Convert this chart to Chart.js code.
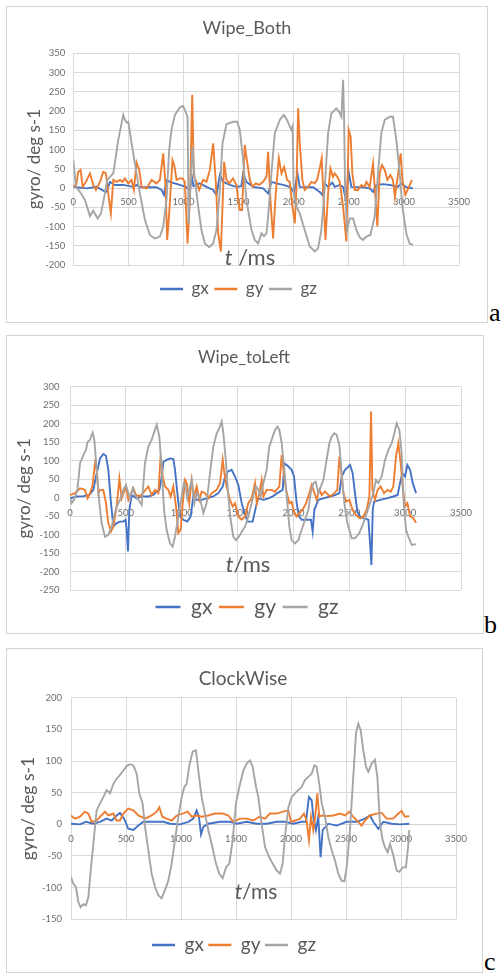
<!DOCTYPE html>
<html>
<head>
<meta charset="utf-8">
<script src="https://cdn.jsdelivr.net/npm/chart.js@4.4.0/dist/chart.umd.min.js"></script>
<style>
  body { margin: 0; background: #fff; }
  .panel { position: absolute; box-sizing: border-box; border: 1px solid #d4d4d4; }
  .panel canvas { position: absolute; left: 0; top: 0; }
  .tag { position: absolute; font-family: "Liberation Serif", serif; font-size: 26px; line-height: 1; color: #000; }
</style>
</head>
<body>
<div class="panel" style="left:6px;top:6px;width:482px;height:317px"><canvas id="chartA" width="480" height="315"></canvas></div>
<div class="tag" style="left:489px;top:300px">a</div>
<div class="panel" style="left:6px;top:335px;width:478px;height:299px"><canvas id="chartB" width="476" height="297"></canvas></div>
<div class="tag" style="left:484px;top:612px">b</div>
<div class="panel" style="left:6px;top:648px;width:477px;height:325px"><canvas id="chartC" width="475" height="323"></canvas></div>
<div class="tag" style="left:484px;top:949px">c</div>
<script>
// series: [t in ms, gyro in deg/s]
const wipeBothGx = [[0,3],[30,2],[121,-1],[212,3],[272,-7],[302,-10],[332,16],[378,8],[453,8],[544,3],[574,8],[604,2],[755,2],[801,-5],[822,-18],[846,21],[876,16],[967,8],[1021,3],[1060,-5],[1075,30],[1090,5],[1148,12],[1209,3],[1269,-5],[1299,-18],[1330,34],[1360,16],[1420,8],[1481,3],[1525,5],[1541,38],[1571,16],[1632,3],[1722,-1],[1768,-14],[1798,16],[1843,12],[1904,8],[1964,3],[1988,-5],[2004,-12],[2034,38],[2055,3],[2176,2],[2236,-10],[2260,-18],[2282,12],[2312,3],[2351,14],[2372,3],[2418,8],[2448,3],[2478,-35],[2496,47],[2523,3],[2629,2],[2690,-1],[2720,-10],[2750,8],[2810,10],[2871,8],[2946,3],[2977,12],[3022,2],[3082,-1]];
const wipeBothGy = [[0,8],[24,3],[45,42],[66,47],[85,3],[115,16],[151,38],[181,8],[205,-5],[242,16],[272,42],[296,38],[317,-14],[341,-66],[363,21],[393,16],[423,21],[447,16],[468,25],[499,12],[529,21],[550,-5],[574,66],[598,47],[620,3],[665,-1],[710,21],[755,12],[786,21],[816,90],[837,8],[852,-135],[870,-66],[900,73],[916,60],[937,21],[967,25],[991,25],[1012,16],[1037,-144],[1058,-31],[1079,242],[1094,29],[1118,16],[1142,-5],[1178,21],[1209,16],[1239,47],[1269,116],[1293,16],[1315,-118],[1339,-165],[1354,-48],[1369,68],[1390,21],[1414,12],[1450,25],[1481,8],[1496,-31],[1511,-57],[1532,-57],[1556,112],[1571,81],[1602,21],[1626,3],[1656,12],[1686,8],[1722,16],[1753,29],[1768,94],[1789,-31],[1813,-131],[1837,-14],[1865,77],[1889,38],[1913,55],[1940,21],[1964,16],[1988,-48],[2010,-92],[2025,3],[2040,207],[2055,116],[2079,21],[2100,-5],[2130,3],[2161,16],[2191,12],[2212,21],[2236,51],[2254,77],[2272,-31],[2288,-135],[2312,-14],[2333,51],[2357,29],[2372,38],[2396,29],[2418,16],[2448,-48],[2478,-139],[2499,151],[2517,133],[2532,38],[2554,-5],[2584,-5],[2614,8],[2644,3],[2659,16],[2690,3],[2720,64],[2741,-23],[2759,-100],[2780,38],[2801,60],[2826,47],[2850,21],[2877,34],[2901,21],[2919,-23],[2940,21],[2971,90],[2986,21],[3013,-18],[3046,3],[3073,21]];
const wipeBothGz = [[0,73],[24,3],[60,-10],[106,-31],[151,-73],[181,-59],[221,-79],[251,-66],[281,-23],[308,21],[363,38],[408,125],[453,190],[468,177],[484,170],[499,172],[529,116],[574,38],[604,-14],[650,-83],[695,-122],[740,-131],[786,-126],[816,-100],[846,-31],[870,99],[891,151],[922,190],[967,210],[997,213],[1012,203],[1037,185],[1046,-92],[1082,107],[1097,38],[1133,-48],[1163,-109],[1194,-144],[1233,-154],[1269,-144],[1299,-109],[1330,-5],[1354,116],[1390,166],[1450,172],[1487,172],[1511,151],[1541,73],[1571,-31],[1617,-109],[1647,-135],[1677,-144],[1707,-118],[1730,-125],[1753,-118],[1768,-74],[1798,38],[1828,142],[1874,177],[1910,190],[1940,177],[1958,164],[1979,151],[1990,160],[2000,-14],[2025,-48],[2055,-66],[2100,-109],[2146,-152],[2191,-165],[2221,-157],[2251,-109],[2282,3],[2312,142],[2342,194],[2372,203],[2387,207],[2412,198],[2433,185],[2448,281],[2457,185],[2466,3],[2484,-109],[2508,-79],[2538,-79],[2569,-109],[2599,-128],[2629,-135],[2659,-126],[2696,-122],[2735,-74],[2765,38],[2795,142],[2826,177],[2871,185],[2901,185],[2931,125],[2962,38],[2986,-48],[3022,-118],[3052,-144],[3082,-148]];

const wipeLeftGx = [[0,-2],[60,3],[119,4],[173,7],[209,21],[239,66],[269,106],[298,118],[322,113],[343,75],[367,-15],[388,-78],[418,-69],[448,-65],[477,-65],[498,-60],[507,-87],[519,-146],[531,-33],[552,7],[597,-2],[642,3],[701,3],[746,7],[776,16],[800,21],[821,57],[836,97],[865,102],[895,106],[925,104],[940,75],[964,3],[985,-51],[1015,-60],[1050,-65],[1080,-51],[1104,3],[1134,-6],[1179,-6],[1223,-2],[1283,3],[1328,12],[1367,30],[1388,57],[1411,70],[1447,75],[1477,57],[1507,34],[1537,-15],[1567,-47],[1590,-65],[1635,-65],[1665,-24],[1686,-2],[1731,-6],[1776,-2],[1814,3],[1856,12],[1904,21],[1919,93],[1955,84],[1984,75],[2005,57],[2029,-15],[2050,-51],[2074,-60],[2119,-60],[2157,-60],[2172,-92],[2187,-33],[2223,-6],[2268,-2],[2327,3],[2372,7],[2411,12],[2432,57],[2462,75],[2507,88],[2530,66],[2551,12],[2572,-38],[2596,-51],[2632,-56],[2671,-60],[2686,-124],[2698,-182],[2710,-33],[2721,-11],[2775,-6],[2835,-2],[2894,3],[2933,7],[2954,39],[2975,66],[2999,57],[3020,88],[3044,75],[3068,39],[3098,12]];
const wipeLeftGy = [[0,7],[45,12],[90,25],[134,21],[158,-2],[179,12],[200,30],[224,93],[239,75],[254,12],[269,21],[298,21],[322,-15],[343,-69],[367,-92],[388,-78],[418,-24],[442,52],[462,-2],[483,16],[501,30],[522,-6],[546,12],[567,25],[591,7],[627,3],[663,16],[701,30],[731,7],[761,21],[791,12],[812,115],[830,57],[850,30],[880,21],[901,3],[925,30],[949,-24],[970,-96],[991,-87],[1009,-15],[1030,48],[1045,39],[1068,-15],[1089,48],[1110,3],[1134,30],[1158,-6],[1179,16],[1209,12],[1238,-2],[1268,12],[1313,21],[1343,39],[1367,102],[1382,66],[1402,30],[1432,-6],[1456,-24],[1477,-15],[1507,-51],[1537,-60],[1567,-51],[1596,-15],[1626,-2],[1656,39],[1672,-15],[1695,12],[1716,48],[1731,3],[1760,21],[1805,21],[1835,16],[1874,30],[1895,115],[1910,75],[1934,21],[1963,-15],[1984,-11],[2005,-38],[2029,-51],[2053,-42],[2083,-33],[2113,-15],[2143,12],[2163,34],[2184,16],[2208,-6],[2232,21],[2253,7],[2283,16],[2327,3],[2366,12],[2393,21],[2411,111],[2426,75],[2447,12],[2471,-11],[2501,-6],[2530,-33],[2560,-47],[2596,-56],[2626,-51],[2656,-33],[2680,3],[2695,233],[2707,21],[2730,-6],[2754,21],[2781,30],[2811,12],[2841,21],[2871,16],[2894,30],[2918,111],[2939,147],[2960,93],[2978,30],[2999,-24],[3020,-15],[3044,-51],[3074,-56],[3098,-68]];
const wipeLeftGz = [[0,-2],[15,-15],[36,-6],[66,21],[90,93],[119,115],[143,129],[158,151],[179,156],[203,176],[218,156],[239,75],[263,-15],[283,-69],[313,-106],[343,-101],[373,-78],[394,-51],[418,-24],[448,-6],[477,21],[501,34],[522,12],[537,-2],[561,25],[582,7],[612,-6],[642,-20],[671,93],[701,138],[731,156],[755,179],[776,197],[800,165],[821,75],[842,-33],[865,-87],[895,-124],[919,-133],[940,-106],[970,-51],[1000,3],[1020,39],[1035,30],[1050,-2],[1089,48],[1113,-15],[1134,12],[1164,-2],[1194,-42],[1223,-15],[1253,66],[1283,138],[1313,174],[1337,188],[1358,206],[1373,174],[1397,93],[1417,3],[1438,-60],[1462,-106],[1486,-115],[1522,-101],[1567,-78],[1596,-51],[1626,-15],[1647,12],[1665,30],[1686,21],[1707,3],[1731,39],[1760,75],[1784,138],[1814,165],[1835,183],[1856,192],[1874,183],[1895,147],[1916,84],[1940,3],[1963,-78],[1984,-115],[2014,-124],[2044,-115],[2074,-87],[2104,-60],[2134,-33],[2154,12],[2178,39],[2200,43],[2223,12],[2245,30],[2268,48],[2292,93],[2322,147],[2342,165],[2366,174],[2387,170],[2411,142],[2432,66],[2456,-15],[2483,-69],[2521,-110],[2551,-110],[2590,-96],[2626,-69],[2656,-42],[2686,-15],[2715,12],[2739,48],[2760,39],[2790,57],[2820,102],[2850,129],[2880,147],[2903,174],[2924,201],[2948,183],[2969,120],[2984,3],[2992,-33],[3008,-87],[3029,-106],[3059,-128],[3098,-126]];

const clockGx = [[0,1],[82,0],[136,4],[203,1],[264,4],[324,9],[370,6],[415,14],[445,18],[482,9],[521,-7],[567,-9],[612,-2],[658,4],[748,4],[839,4],[900,1],[991,0],[1067,4],[1112,9],[1142,22],[1163,12],[1182,-16],[1203,-4],[1248,1],[1354,4],[1445,4],[1506,1],[1597,4],[1688,1],[1779,1],[1870,4],[1945,4],[2021,1],[2097,4],[2136,4],[2163,43],[2188,38],[2203,12],[2227,-9],[2248,12],[2269,-52],[2288,-9],[2339,1],[2415,-2],[2506,4],[2597,4],[2673,9],[2718,14],[2748,4],[2794,-7],[2839,4],[2915,1],[2991,0],[3076,1]];
const clockGy = [[0,14],[36,9],[82,12],[127,20],[158,17],[188,4],[233,6],[264,12],[309,20],[339,14],[385,17],[415,6],[445,6],[476,17],[521,25],[567,22],[612,14],[673,9],[733,14],[779,20],[803,27],[830,12],[870,9],[915,6],[961,14],[1015,17],[1061,20],[1097,12],[1142,14],[1188,12],[1248,14],[1309,17],[1379,17],[1430,14],[1476,4],[1536,9],[1597,9],[1657,6],[1712,12],[1764,9],[1809,17],[1870,17],[1930,20],[1976,22],[2000,4],[2036,6],[2082,9],[2118,17],[2142,6],[2163,-25],[2182,12],[2203,-9],[2220,12],[2239,49],[2257,12],[2279,14],[2324,13],[2385,14],[2445,17],[2491,14],[2530,20],[2566,12],[2612,4],[2642,-2],[2673,6],[2718,14],[2779,17],[2824,18],[2869,9],[2930,9],[2976,17],[3006,21],[3036,12],[3076,13]];
const clockGz = [[0,-83],[21,-94],[45,-99],[67,-123],[88,-131],[112,-126],[136,-128],[158,-115],[179,-73],[203,-31],[233,22],[264,33],[294,43],[324,54],[355,49],[385,64],[415,72],[445,78],[476,85],[506,92],[536,95],[567,93],[597,80],[621,49],[651,33],[673,-4],[703,-41],[733,-78],[764,-99],[794,-112],[824,-117],[854,-104],[885,-89],[915,-62],[945,-25],[976,12],[1006,43],[1030,59],[1051,64],[1076,93],[1106,115],[1136,117],[1157,85],[1188,43],[1218,17],[1248,-9],[1279,-31],[1318,-62],[1348,-78],[1379,-85],[1409,-68],[1439,-62],[1470,-25],[1500,33],[1530,59],[1567,85],[1597,96],[1627,101],[1651,91],[1682,59],[1703,43],[1733,1],[1764,-36],[1803,-52],[1833,-62],[1870,-73],[1900,-78],[1924,-62],[1945,-20],[1976,27],[2006,43],[2036,49],[2066,54],[2097,59],[2127,70],[2157,75],[2188,80],[2212,93],[2233,91],[2257,64],[2279,33],[2309,12],[2339,-20],[2370,-41],[2400,-57],[2430,-78],[2460,-89],[2485,-90],[2506,-68],[2536,-9],[2566,75],[2591,144],[2612,159],[2633,149],[2657,117],[2682,91],[2703,83],[2733,96],[2763,102],[2785,75],[2809,1],[2833,-25],[2854,-36],[2879,-44],[2900,-31],[2930,-49],[2960,-73],[2985,-75],[3015,-68],[3045,-68],[3064,-36],[3076,-9]];

const seriesNames = ["gx", "gy", "gz"];
const seriesColors = ["#4472C4", "#ED7D31", "#A5A5A5"];
const INK = "#595959";

Chart.defaults.font.family = "Lato, 'Noto Sans', sans-serif";

// title and x axis name, drawn on the canvas at fixed spots
const panelText = {
  id: "panelText",
  afterDatasetsDraw(chart, args, opts) {
    const ctx = chart.ctx;
    ctx.save();
    ctx.fillStyle = INK;
    ctx.textBaseline = "middle";
    ctx.textAlign = "left";
    (opts.items || []).forEach(item => {
      const fonts = item.parts.map(p => (p[1] ? "italic " : "") + item.size + "px Lato");
      const widths = item.parts.map((p, i) => { ctx.font = fonts[i]; return ctx.measureText(p[0]).width; });
      let x = item.x - widths.reduce((a, b) => a + b, 0) / 2;
      item.parts.forEach((p, i) => {
        ctx.font = fonts[i];
        ctx.fillText(p[0], x, item.y);
        x += widths[i];
      });
    });
    ctx.restore();
  }
};

function makeChart(id, p) {
  const ctx = document.getElementById(id).getContext("2d");
  return new Chart(ctx, {
    type: "line",
    data: {
      datasets: p.series.map((s, i) => ({
        label: seriesNames[i],
        data: s.map(([x, y]) => ({ x, y })),
        borderColor: seriesColors[i],
        backgroundColor: seriesColors[i],
        borderWidth: 1.9,
        pointRadius: 0,
        tension: 0,
        order: 2 - i
      }))
    },
    options: {
      responsive: false,
      animation: false,
      events: [],
      layout: { padding: p.pad },
      scales: {
        x: {
          type: "linear",
          position: { y: 0 },
          min: 0,
          max: 3500,
          ticks: { stepSize: 500, padding: p.xLabelPad, color: "#6e6e6e", font: { size: 9.5 }, maxRotation: 0, format: { useGrouping: false } },
          grid: { color: "#d9d9d9", drawTicks: false },
          border: { color: "#d4d4d4" }
        },
        y: {
          min: p.yMin,
          max: p.yMax,
          ticks: { stepSize: 50, padding: p.yLabelPad, color: "#6e6e6e", font: { size: 9.5 } },
          grid: { color: "#d9d9d9", drawTicks: false },
          border: { display: false },
          title: { display: true, text: "gyro/ deg s-1", color: INK, font: { size: p.yTitleSize }, padding: { top: p.yTitlePad, bottom: 0 } },
          afterFit(scale) { scale.width = p.yWidth; }
        }
      },
      plugins: {
        title: { display: false },
        tooltip: { enabled: false },
        legend: {
          position: "bottom",
          title: { display: p.legendLift > 0, text: "", font: { size: 2 }, padding: { top: p.legendLift, bottom: 0 } },
          labels: {
            usePointStyle: true,
            pointStyle: "line",
            pointStyleWidth: p.legendLine,
            padding: p.legendPad,
            color: INK,
            font: { size: p.legendSize },
            sort: (a, b) => a.datasetIndex - b.datasetIndex,
            generateLabels(chart) {
              const items = Chart.defaults.plugins.legend.labels.generateLabels(chart);
              items.forEach(it => { it.lineWidth = 2.5; });
              return items;
            }
          }
        },
        panelText: { items: [
          { x: p.titleAt[0], y: p.titleAt[1], size: p.titleSize, parts: [[p.title, false]] },
          { x: p.axisAt[0], y: p.axisAt[1], size: p.axisSize, parts: p.axisName }
        ] }
      }
    },
    plugins: [panelText]
  });
}

makeChart("chartA", {
  series: [wipeBothGx, wipeBothGy, wipeBothGz],
  title: "Wipe_Both", titleSize: 18, titleAt: [240, 21],
  axisName: [["t", true], [" /ms", false]], axisSize: 22, axisAt: [243, 251],
  yMin: -200, yMax: 350,
  pad: { left: 11, right: 28, top: 46.3, bottom: 14.5 },
  yWidth: 55.3, yLabelPad: 8, yTitleSize: 17, yTitlePad: 6.8, xLabelPad: 8,
  legendSize: 17, legendPad: 5.5, legendLift: 7.6, legendLine: 23
});

makeChart("chartB", {
  series: [wipeLeftGx, wipeLeftGy, wipeLeftGz],
  title: "Wipe_toLeft", titleSize: 17, titleAt: [237, 22],
  axisName: [["t", true], ["/ms", false]], axisSize: 22, axisAt: [241, 229],
  yMin: -250, yMax: 300,
  pad: { left: 26, right: 22, top: 50.7, bottom: 5.5 },
  yWidth: 37, yLabelPad: 10.5, yTitleSize: 17, yTitlePad: -18.2, xLabelPad: 10,
  legendSize: 21, legendPad: 6.5, legendLift: 0, legendLine: 25
});

makeChart("chartC", {
  series: [clockGx, clockGy, clockGz],
  title: "ClockWise", titleSize: 19, titleAt: [236, 30],
  axisName: [["t", true], ["/ms", false]], axisSize: 21, axisAt: [249, 243],
  yMin: -150, yMax: 200,
  pad: { left: 5, right: 26, top: 48.7, bottom: 7.5 },
  yWidth: 59, yLabelPad: 9, yTitleSize: 17.5, yTitlePad: 5.5, xLabelPad: 8.5,
  legendSize: 19, legendPad: 4.5, legendLift: 9.3, legendLine: 23
});
</script>
</body>
</html>
